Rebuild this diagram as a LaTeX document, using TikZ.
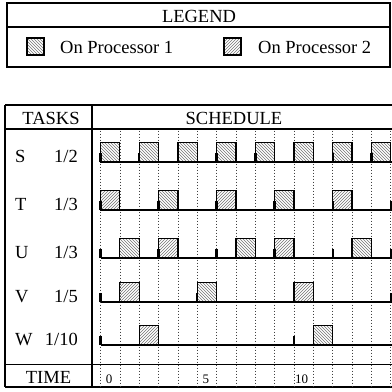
\documentclass[tikz,border=0pt]{standalone}
\usepackage{fontspec}
\setmainfont{Liberation Serif}
\usetikzlibrary{patterns}

\tikzset{
  frame/.style={line width=1.3pt},
  procone/.style={draw,line width=1.2pt,pattern=north west lines,pattern color=black!55},
  proctwo/.style={draw,line width=1.2pt,pattern=north east lines,pattern color=black!55},
  taskline/.style={line width=1.8pt},
  release/.style={line width=2.4pt},
  timegrid/.style={line width=0.7pt,black!75,dash pattern=on 0.7pt off 2.3pt},
  timelabel/.style={font=\fontsize{13}{15}\selectfont}
}

\begin{document}
\begin{tikzpicture}[x=1pt,y=-1pt,inner sep=0pt,font=\fontsize{18.5}{22}\selectfont]
  \useasboundingbox (0,0) rectangle (392,392);
  % legend
  \draw[frame] (7,3) rectangle (390,67);
  \draw[frame] (7,27) -- (390,27);
  \node (legend) at (199,16) {LEGEND};
  \draw[procone] (27,38) rectangle (44,55);
  \node[anchor=west] (pone) at (60,47) {On Processor 1};
  \draw[proctwo] (224,38) rectangle (241,55);
  \node[anchor=west] (ptwo) at (258,47) {On Processor 2};

  % table frame
  \draw[frame] (5,105) -- (392,105);
  \draw[frame] (5,129) -- (392,129);
  \draw[frame] (5,364.5) -- (392,364.5);
  \draw[frame] (5,387) -- (392,387);
  \draw[frame] (5,105) -- (5,387);
  \draw[frame] (92,105) -- (92,387);
  \node (tasks) at (51,118) {TASKS};
  \node (schedule) at (234,118) {SCHEDULE};
  \node (time) at (48.5,377) {TIME};

  % task names and rates
  \foreach \n/\r/\y in {S/1\slash 2/162,T/1\slash 3/210,U/1\slash 3/258,V/1\slash 5/302,W/1\slash 10/345}{
    \node[anchor=base west] (name\n) at (15,\y) {\n};
    \node[anchor=base east] (rate\n) at (78,\y) {\r};
  }

  % schedule, one unit per time step
  \begin{scope}[shift={(100.5,0)},x=19.35pt]
    \foreach \t in {0,...,15}
      \draw[timegrid] (\t,130.5) -- (\t,386);

    % S
    \foreach \t in {0,2,...,14}
      \draw[procone] (\t,162) rectangle ++(1,-19.35);
    \draw[taskline] (0,162) -- (15.2,162);
    \foreach \t in {0,2,...,14}
      \draw[release] (\t,162) -- ++(0,-9);

    % T
    \foreach \t/\s in {0/proctwo,3/procone,6/proctwo,9/procone,12/proctwo}
      \draw[\s] (\t,210) rectangle ++(1,-19.35);
    \draw[taskline] (0,210) -- (15.2,210);
    \foreach \t in {0,3,...,15}
      \draw[release] (\t,210) -- ++(0,-9);

    % U
    \foreach \t/\s in {1/procone,3/proctwo,7/procone,9/proctwo,13/procone}
      \draw[\s] (\t,258) rectangle ++(1,-19.35);
    \draw[taskline] (0,258) -- (15.2,258);
    \foreach \t in {0,3,...,15}
      \draw[release] (\t,258) -- ++(0,-9);

    % V
    \foreach \t/\s in {1/proctwo,5/procone,10/proctwo}
      \draw[\s] (\t,302) rectangle ++(1,-19.35);
    \draw[taskline] (0,302) -- (15.2,302);
    \foreach \t in {0,5,10,15}
      \draw[release] (\t,302) -- ++(0,-9);

    % W
    \foreach \t/\s in {2/proctwo,11/procone}
      \draw[\s] (\t,345) rectangle ++(1,-19.35);
    \draw[taskline] (0,345) -- (15.2,345);
    \foreach \t in {0,10}
      \draw[release] (\t,345) -- ++(0,-9);

    % time axis
    \node[timelabel] (tzero) at (0.45,379) {0};
    \node[timelabel] (tfive) at (5.45,379) {5};
    \node[timelabel] (tten) at (10.4,379) {10};
  \end{scope}
\end{tikzpicture}
\end{document}
